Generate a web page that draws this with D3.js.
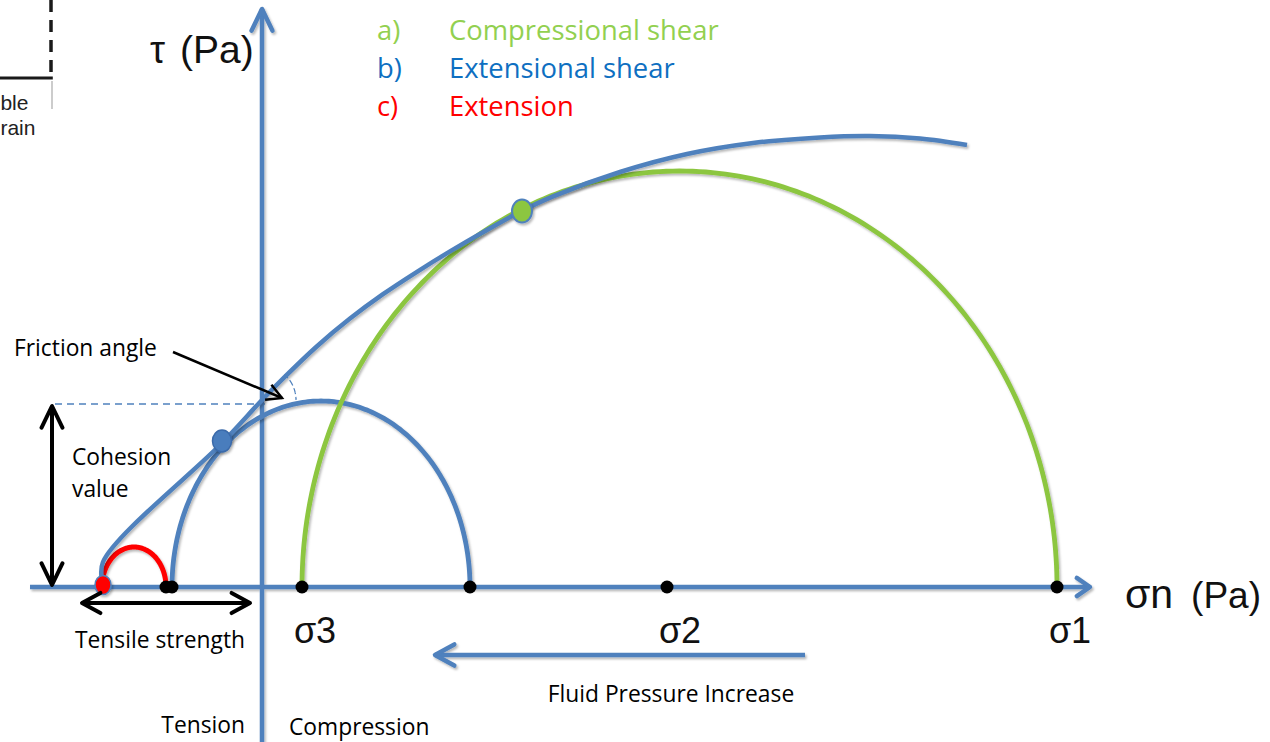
<!DOCTYPE html>
<html>
<head>
<meta charset="utf-8">
<script src="https://cdn.jsdelivr.net/npm/d3@7"></script>
<style>
  html, body { margin: 0; padding: 0; background: #ffffff; }
  svg { display: block; }
</style>
</head>
<body>
<svg id="chart" width="1270" height="742"></svg>
<script>
// ---------------- DATA (σn and τ in arbitrary Pa units) ----------------
const legendKeys   = ["a)", "b)", "c)"];
const legendLabels = ["Compressional shear", "Extensional shear", "Extension"];

// Mohr circles: extension (c), extensional shear (b), compressional shear (a)
const circleNames  = ["Extension", "Extensional shear", "Compressional shear"];
const circleSigma3 = [-40, -22.5, 10];
const circleSigma1 = [-24, 52, 198.75];
const circleTauMax = [10, 46.5, 104];

// principal stress markers on the σn axis
const stressPoints = [-24, -22.5, 10, 52, 101.25, 198.75];
const sigmaLabels  = ["σ3", "σ2", "σ1"];
const sigmaValues  = [10, 101.25, 198.75];

// failure envelope
const envelopeSigma = [-39.75, -39.75, -10, 0, 5.25, 13.75, 22, 30.25, 38.75, 47, 55.25, 64.5, 72.75, 89.5, 106.25, 122.75, 139.5, 152, 164.5, 176.25];
const envelopeTau   = [0.5, 6.25, 36, 46.75, 52.1, 60.2, 67.1, 73.2, 78.8, 83.9, 88.7, 93.8, 97.65, 103.75, 108.25, 111, 112.4, 112.75, 112.1, 110.5];

// tangent (failure) points: extension, extensional shear, compressional shear
const tangentSigma = [-39.75, -10, 65];
const tangentTau   = [0.5, 36.5, 94];

const cohesionValue = 45.75;
const tensileStrength = [-45.5, -2.5];      // double arrow extent along σn
const fluidPressureArrow = [135.75, 42.75]; // from → to along σn

// ---------------- STYLES ----------------
const C = {
  axis: "#4F81BD",
  green: "#8CC63F",
  greenText: "#92D050",
  blueText: "#0E6FC1",
  red: "#FF0000",
  black: "#000000"
};
const circleColors = [C.red, C.axis, C.green];
const legendColors = [C.greenText, C.blueText, C.red];
const calibri = "'Open Sans', Lato, sans-serif";
const arial = "'Liberation Sans', Arial, sans-serif";
const LBL = 22.8;

// ---------------- SCALES ----------------
const W = 1270, H = 742;
const x = d3.scaleLinear().domain([-65.5, 252]).range([0, W]);
const y = d3.scaleLinear().domain([-38.75, 146.75]).range([H, 0]);

const svg = d3.select("#chart");
const defs = svg.append("defs");
const f = defs.append("filter").attr("id", "sh")
  .attr("filterUnits", "userSpaceOnUse")
  .attr("x", 0).attr("y", 0).attr("width", W).attr("height", H);
f.append("feDropShadow").attr("dx", 1.5).attr("dy", 2).attr("stdDeviation", 1.3)
  .attr("flood-color", "#000").attr("flood-opacity", 0.28);

function chevron(tx, ty, ang, len, half) {
  const p1 = [tx - len * Math.cos(ang - half), ty - len * Math.sin(ang - half)];
  const p2 = [tx - len * Math.cos(ang + half), ty - len * Math.sin(ang + half)];
  return `M${p1[0]},${p1[1]}L${tx},${ty}L${p2[0]},${p2[1]}`;
}

// ---------------- Cropped fragment of neighbouring figure (top-left) ----------------
const frag = svg.append("g");
frag.append("line").attr("x1", x(-52.75)).attr("x2", x(-52.75)).attr("y1", y(146.75)).attr("y2", y(127))
  .attr("stroke", "#1a1a1a").attr("stroke-width", 3.5).attr("stroke-dasharray", "12,8");
frag.append("line").attr("x1", x(-65.5)).attr("x2", x(-52.3)).attr("y1", y(127.25)).attr("y2", y(127.25))
  .attr("stroke", "#1a1a1a").attr("stroke-width", 3);
frag.append("line").attr("x1", x(-52.5)).attr("x2", x(-52.5)).attr("y1", y(126.5)).attr("y2", y(119.5))
  .attr("stroke", "#999").attr("stroke-width", 1);
frag.append("text").attr("x", x(-65.4)).attr("y", y(119.25)).attr("font-family", arial).attr("font-size", 21).attr("fill", "#222").text("ble");
frag.append("text").attr("x", x(-65.4)).attr("y", y(113)).attr("font-family", arial).attr("font-size", 21).attr("fill", "#222").text("rain");

// ---------------- AXES ----------------
const axes = svg.append("g").attr("filter", "url(#sh)");
axes.append("line").attr("x1", x(-58)).attr("x2", x(207)).attr("y1", y(0)).attr("y2", y(0))
  .attr("stroke", C.axis).attr("stroke-width", 4.5);
axes.append("path").attr("d", chevron(x(207), y(0), 0, 16, 0.6))
  .attr("fill", "none").attr("stroke", C.axis).attr("stroke-width", 4.5).attr("stroke-linecap", "round").attr("stroke-linejoin", "round");
axes.append("line").attr("x1", x(0)).attr("x2", x(0)).attr("y1", y(-38.75)).attr("y2", y(144.5))
  .attr("stroke", C.axis).attr("stroke-width", 4.5);
axes.append("path").attr("d", chevron(x(0), y(144.5), -Math.PI / 2, 24, 0.45))
  .attr("fill", "none").attr("stroke", C.axis).attr("stroke-width", 4.5).attr("stroke-linecap", "round").attr("stroke-linejoin", "round");

// ---------------- Cohesion dashed line ----------------
svg.append("line").attr("x1", x(-51.75)).attr("x2", x(0.75)).attr("y1", y(cohesionValue)).attr("y2", y(cohesionValue))
  .attr("stroke", C.axis).attr("stroke-width", 1.6).attr("stroke-dasharray", "7,5");

// ---------------- Mohr circles ----------------
const arcLine = d3.line().x(d => x(d[0])).y(d => y(d[1]));
const circles = svg.append("g").attr("filter", "url(#sh)");
[1, 2, 0].forEach(i => {
  const c = (circleSigma3[i] + circleSigma1[i]) / 2;
  const r = (circleSigma1[i] - circleSigma3[i]) / 2;
  const pts = d3.range(0, 181).map(k => {
    const t = Math.PI - k * Math.PI / 180;
    return [c + r * Math.cos(t), circleTauMax[i] * Math.sin(t)];
  });
  circles.append("path").attr("d", arcLine(pts)).attr("fill", "none")
    .attr("stroke", circleColors[i]).attr("stroke-width", i === 0 ? 5 : 4.8);
});

// ---------------- Failure envelope ----------------
const envPts = envelopeSigma.map((s, i) => [s, envelopeTau[i]]);
svg.append("path")
  .attr("d", d3.line().x(d => x(d[0])).y(d => y(d[1])).curve(d3.curveCatmullRom.alpha(0.5))(envPts))
  .attr("fill", "none").attr("stroke", C.axis).attr("stroke-width", 4.5).attr("filter", "url(#sh)");

// ---------------- Friction angle ----------------
const arcR = 34;
const arcGen = d3.arc().innerRadius(arcR).outerRadius(arcR).startAngle(0.72).endAngle(Math.PI / 2);
svg.append("path").attr("d", arcGen())
  .attr("transform", `translate(${x(0)},${y(envelopeTau[3])})`)
  .attr("fill", "none").attr("stroke", C.axis).attr("stroke-width", 1.2).attr("stroke-dasharray", "5,4");
const fa0 = [x(-22.25), y(58.75)], fa1 = [x(5), y(47.25)];
const faAng = Math.atan2(fa1[1] - fa0[1], fa1[0] - fa0[0]);
svg.append("line").attr("x1", fa0[0]).attr("y1", fa0[1]).attr("x2", fa1[0]).attr("y2", fa1[1])
  .attr("stroke", C.black).attr("stroke-width", 2.5);
svg.append("path").attr("d", chevron(fa1[0], fa1[1], faAng, 17, 0.5))
  .attr("fill", "none").attr("stroke", C.black).attr("stroke-width", 2.5).attr("stroke-linejoin", "miter");
svg.append("text").attr("x", x(-62)).attr("y", y(57.75)).attr("font-family", calibri).attr("font-size", LBL).text("Friction angle");

// ---------------- Stress point markers ----------------
svg.append("g").selectAll("circle").data(stressPoints).join("circle")
  .attr("cx", d => x(d)).attr("cy", y(0)).attr("r", 6.5).attr("fill", C.black);

// tangent points
const tp = svg.append("g").attr("filter", "url(#sh)");
tp.append("ellipse").attr("cx", x(tangentSigma[1])).attr("cy", y(tangentTau[1])).attr("rx", 9.5).attr("ry", 11)
  .attr("fill", "#4A7DBD").attr("stroke", "#3A6AAA").attr("stroke-width", 1.5);
tp.append("ellipse").attr("cx", x(tangentSigma[2])).attr("cy", y(tangentTau[2])).attr("rx", 10).attr("ry", 11.5)
  .attr("fill", C.green).attr("stroke", C.axis).attr("stroke-width", 2);
tp.append("ellipse").attr("cx", x(tangentSigma[0])).attr("cy", y(tangentTau[0])).attr("rx", 8).attr("ry", 9.5)
  .attr("fill", C.red).attr("stroke", C.axis).attr("stroke-width", 1.5);

// ---------------- Cohesion double arrow ----------------
const cx0 = x(-52.5);
svg.append("line").attr("x1", cx0).attr("x2", cx0).attr("y1", y(cohesionValue) + 2).attr("y2", y(0) - 2)
  .attr("stroke", C.black).attr("stroke-width", 4);
svg.append("path").attr("d", chevron(cx0, y(cohesionValue) + 2, -Math.PI / 2, 24, 0.45) + chevron(cx0, y(0) - 2, Math.PI / 2, 24, 0.45))
  .attr("fill", "none").attr("stroke", C.black).attr("stroke-width", 4).attr("stroke-linecap", "round").attr("stroke-linejoin", "round");
svg.append("text").attr("x", x(-47.5)).attr("y", y(30.5)).attr("font-family", calibri).attr("font-size", LBL).text("Cohesion");
svg.append("text").attr("x", x(-47.5)).attr("y", y(22.5)).attr("font-family", calibri).attr("font-size", LBL).text("value");

// ---------------- Tensile strength double arrow ----------------
const ty0 = y(-4);
svg.append("line").attr("x1", x(tensileStrength[0]) + 2).attr("x2", x(tensileStrength[1]) - 2).attr("y1", ty0).attr("y2", ty0)
  .attr("stroke", C.black).attr("stroke-width", 4);
svg.append("path").attr("d", chevron(x(tensileStrength[0]) + 2, ty0, Math.PI, 21, 0.5) + chevron(x(tensileStrength[1]) - 2, ty0, 0, 21, 0.5))
  .attr("fill", "none").attr("stroke", C.black).attr("stroke-width", 4).attr("stroke-linecap", "round").attr("stroke-linejoin", "round");
svg.append("text").attr("x", x(-25.5)).attr("y", y(-15.25)).attr("text-anchor", "middle").attr("font-family", calibri).attr("font-size", LBL).text("Tensile strength");

// ---------------- σ labels ----------------
svg.append("g").selectAll("text").data(sigmaValues).join("text")
  .attr("x", d => x(d) + 13).attr("y", y(-14))
  .attr("text-anchor", "middle").attr("font-family", arial).attr("font-size", 36).attr("fill", "#111")
  .text((d, i) => sigmaLabels[i]);

// axis titles
const xt = svg.append("text").attr("x", x(215.75)).attr("y", y(-5.25)).attr("font-family", arial).attr("fill", "#111");
xt.append("tspan").attr("font-size", 41).text("σn");
xt.append("tspan").attr("font-size", 37).attr("dx", 18).text("(Pa)");
const yt = svg.append("text").attr("x", x(-28)).attr("y", y(131)).attr("font-family", arial).attr("fill", "#111");
yt.append("tspan").attr("font-size", 38).text("τ");
yt.append("tspan").attr("font-size", 39).attr("dx", 15).text("(Pa)");

// ---------------- Fluid pressure arrow ----------------
const fy = y(-17);
const fp = svg.append("g").attr("filter", "url(#sh)");
fp.append("line").attr("x1", x(fluidPressureArrow[0])).attr("x2", x(fluidPressureArrow[1]) + 2).attr("y1", fy).attr("y2", fy)
  .attr("stroke", C.axis).attr("stroke-width", 4.5);
fp.append("path").attr("d", chevron(x(fluidPressureArrow[1]) + 2, fy, Math.PI, 22, 0.5))
  .attr("fill", "none").attr("stroke", C.axis).attr("stroke-width", 4.5).attr("stroke-linecap", "round").attr("stroke-linejoin", "round");
svg.append("text").attr("x", x(102.25)).attr("y", y(-28.75)).attr("text-anchor", "middle").attr("font-family", calibri).attr("font-size", LBL).text("Fluid Pressure Increase");

// ---------------- Tension / Compression ----------------
svg.append("text").attr("x", x(-4.25)).attr("y", y(-36.5)).attr("text-anchor", "end").attr("font-family", calibri).attr("font-size", LBL).text("Tension");
svg.append("text").attr("x", x(6.75)).attr("y", y(-37)).attr("font-family", calibri).attr("font-size", LBL).text("Compression");

// ---------------- Legend ----------------
const lg = svg.append("g");
legendKeys.forEach((k, i) => {
  const by = y(136.75 - i * 9.5);
  lg.append("text").attr("x", x(28.75)).attr("y", by).attr("font-family", calibri).attr("font-size", 27.4).attr("fill", legendColors[i]).text(k);
  lg.append("text").attr("x", x(46.75)).attr("y", by).attr("font-family", calibri).attr("font-size", 27.4).attr("fill", legendColors[i]).text(legendLabels[i]);
});
</script>
</body>
</html>
